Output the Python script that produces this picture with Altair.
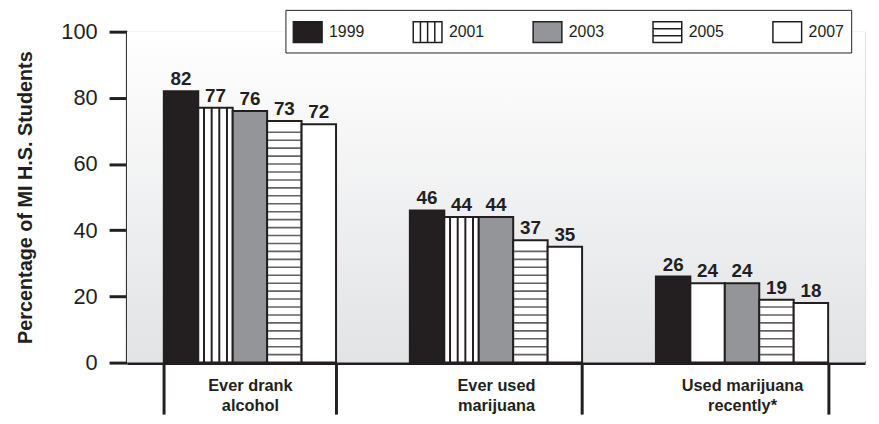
import altair as alt
import pandas as pd

# ---------------- data ----------------
categories = ["Ever drank\nalcohol", "Ever used\nmarijuana", "Used marijuana\nrecently*"]
years = ["1999", "2001", "2003", "2005", "2007"]
v1999 = [82, 46, 26]
v2001 = [77, 44, 24]
v2003 = [76, 44, 24]
v2005 = [73, 37, 19]
v2007 = [72, 35, 18]
series = {"1999": v1999, "2001": v2001, "2003": v2003, "2005": v2005, "2007": v2007}

fills = ["#231f20", "#ffffff", "#939598", "#ffffff", "#ffffff"]
INK = "#231f20"
FONT = "Liberation Sans"

rows = []
for y in years:
    for c, v in zip(categories, series[y]):
        rows.append({"category": c, "year": y, "value": v})
df = pd.DataFrame(rows)

# pattern helpers (styling derived from the data)
# vertical stripes for 2001 bars (plain in the last group, as in the original)
sub_n = 9
sub_domain = [f"{y}-{k}" for y in years for k in range(sub_n)]
vrows = []
for c, v in zip(categories[:2], v2001[:2]):
    for k in (1, 3, 5, 7):
        vrows.append({"category": c, "slot": f"2001-{k}", "value": v})
vdf = pd.DataFrame(vrows)

# horizontal stripes for 2005 bars
hrows = []
step = 2.4
for c, v in zip(categories, v2005):
    k = 1
    while k * step < v - 1.2:
        hrows.append({"category": c, "year": "2005", "s": k * step})
        k += 1
hdf = pd.DataFrame(hrows)

W, H = 745, 334

x_enc = alt.X("category:N", sort=categories,
              scale=alt.Scale(paddingInner=0.3, paddingOuter=0.15),
              axis=alt.Axis(title=None, labelAngle=0, labelExpr="split(datum.label, '\\n')",
                            labelFont=FONT, labelFontSize=16.5, labelFontWeight="bold",
                            labelColor=INK, labelLineHeight=20, labelPadding=-37,
                            domainColor=INK, domainWidth=4, tickColor=INK, tickWidth=3,
                            tickSize=52, tickBand="extent"))
xoff = alt.XOffset("year:N", sort=years,
                   scale=alt.Scale(type="band", domain=years, paddingInner=0, paddingOuter=0))
y_scale = alt.Scale(domain=[0, 100], nice=False)

paths = {
    "rect": "M-1,-0.72H1V0.72H-1Z",
    "vert": "M-1,-0.72H1V0.72H-1Z M-0.5,-0.72V0.72 M0,-0.72V0.72 M0.5,-0.72V0.72",
    "horz": "M-1,-0.72H1V0.72H-1Z M-1,-0.24H1 M-1,0.24H1",
}
shape_range = [paths["rect"], paths["vert"], paths["rect"], paths["horz"], paths["rect"]]

background = alt.Chart(alt.InlineData(values=[{"a": 1}])).mark_rect(
    fill=alt.Gradient(gradient="linear",
                      stops=[alt.GradientStop(color="#ffffff", offset=0),
                             alt.GradientStop(color="#e2e3e5", offset=1)],
                      x1=0, x2=0, y1=0, y2=1)
).encode(x=alt.value(0), x2=alt.value(W), y=alt.value(0), y2=alt.value(H))

# hidden points (covered by the bars) that carry the patterned legend
legend_pts = alt.Chart(df).transform_calculate(mid="datum.value / 2").mark_point(
    filled=True, opacity=1, stroke=INK, strokeWidth=1.5, size=30
).encode(
    x=x_enc, xOffset=xoff,
    y=alt.Y("mid:Q", scale=y_scale),
    color=alt.Color("year:N", sort=years, scale=alt.Scale(domain=years, range=fills),
                    legend=alt.Legend(title=None, orient="none", legendX=160, legendY=-22,
                                      direction="horizontal", columns=5,
                                      symbolSize=841, symbolStrokeColor=INK, symbolStrokeWidth=1.5,
                                      labelFont=FONT, labelFontSize=16, labelColor=INK,
                                      labelOffset=6, columnPadding=46,
                                      fillColor="white", strokeColor=INK, padding=7)),
    shape=alt.Shape("year:N", sort=years, scale=alt.Scale(domain=years, range=shape_range)),
)

bars = alt.Chart(df).mark_bar(stroke=INK, strokeWidth=2).encode(
    x=x_enc, xOffset=xoff,
    y=alt.Y("value:Q", scale=y_scale,
            axis=alt.Axis(title="Percentage of MI H.S. Students", values=[0, 20, 40, 60, 80, 100],
                          grid=False, domainColor=INK, domainWidth=3, tickColor=INK, tickWidth=3,
                          tickSize=18, labelFont=FONT, labelFontSize=22, labelColor=INK,
                          labelPadding=12, titleFont=FONT, titleFontSize=20, titleFontWeight="bold",
                          titleColor=INK, titlePadding=26)),
    fill=alt.Fill("year:N", sort=years, scale=alt.Scale(domain=years, range=fills), legend=None),
)

vstripes = alt.Chart(vdf).mark_rule(color=INK, strokeWidth=2).encode(
    x=alt.X("category:N", sort=categories),
    xOffset=alt.XOffset("slot:N", scale=alt.Scale(type="band", domain=sub_domain,
                                                  paddingInner=0, paddingOuter=0)),
    y=alt.Y("value:Q", scale=y_scale), y2=alt.datum(0),
)

hstripes = alt.Chart(hdf).mark_tick(color=INK, thickness=1.6, size=33, orient="horizontal").encode(
    x=alt.X("category:N", sort=categories),
    xOffset=alt.XOffset("year:N", scale=alt.Scale(type="band", domain=years,
                                                  paddingInner=0, paddingOuter=0)),
    y=alt.Y("s:Q", scale=y_scale),
)

labels = alt.Chart(df).mark_text(font=FONT, fontSize=19, fontWeight="bold", color=INK,
                                 baseline="alphabetic", dy=-6).encode(
    x=x_enc, xOffset=xoff,
    y=alt.Y("value:Q", scale=y_scale),
    text=alt.Text("value:Q"),
)

chart = alt.layer(background, legend_pts, bars, vstripes, hstripes, labels).resolve_scale(
    xOffset="independent"
).properties(
    width=W, height=H,
    autosize=alt.AutoSizeParams(type="none"),
    padding={"left": 120, "top": 22, "right": 6, "bottom": 52},
).configure_view(stroke=None).configure(background="white")

chart.save("out.html", embed_options={"renderer": "svg", "actions": False})
